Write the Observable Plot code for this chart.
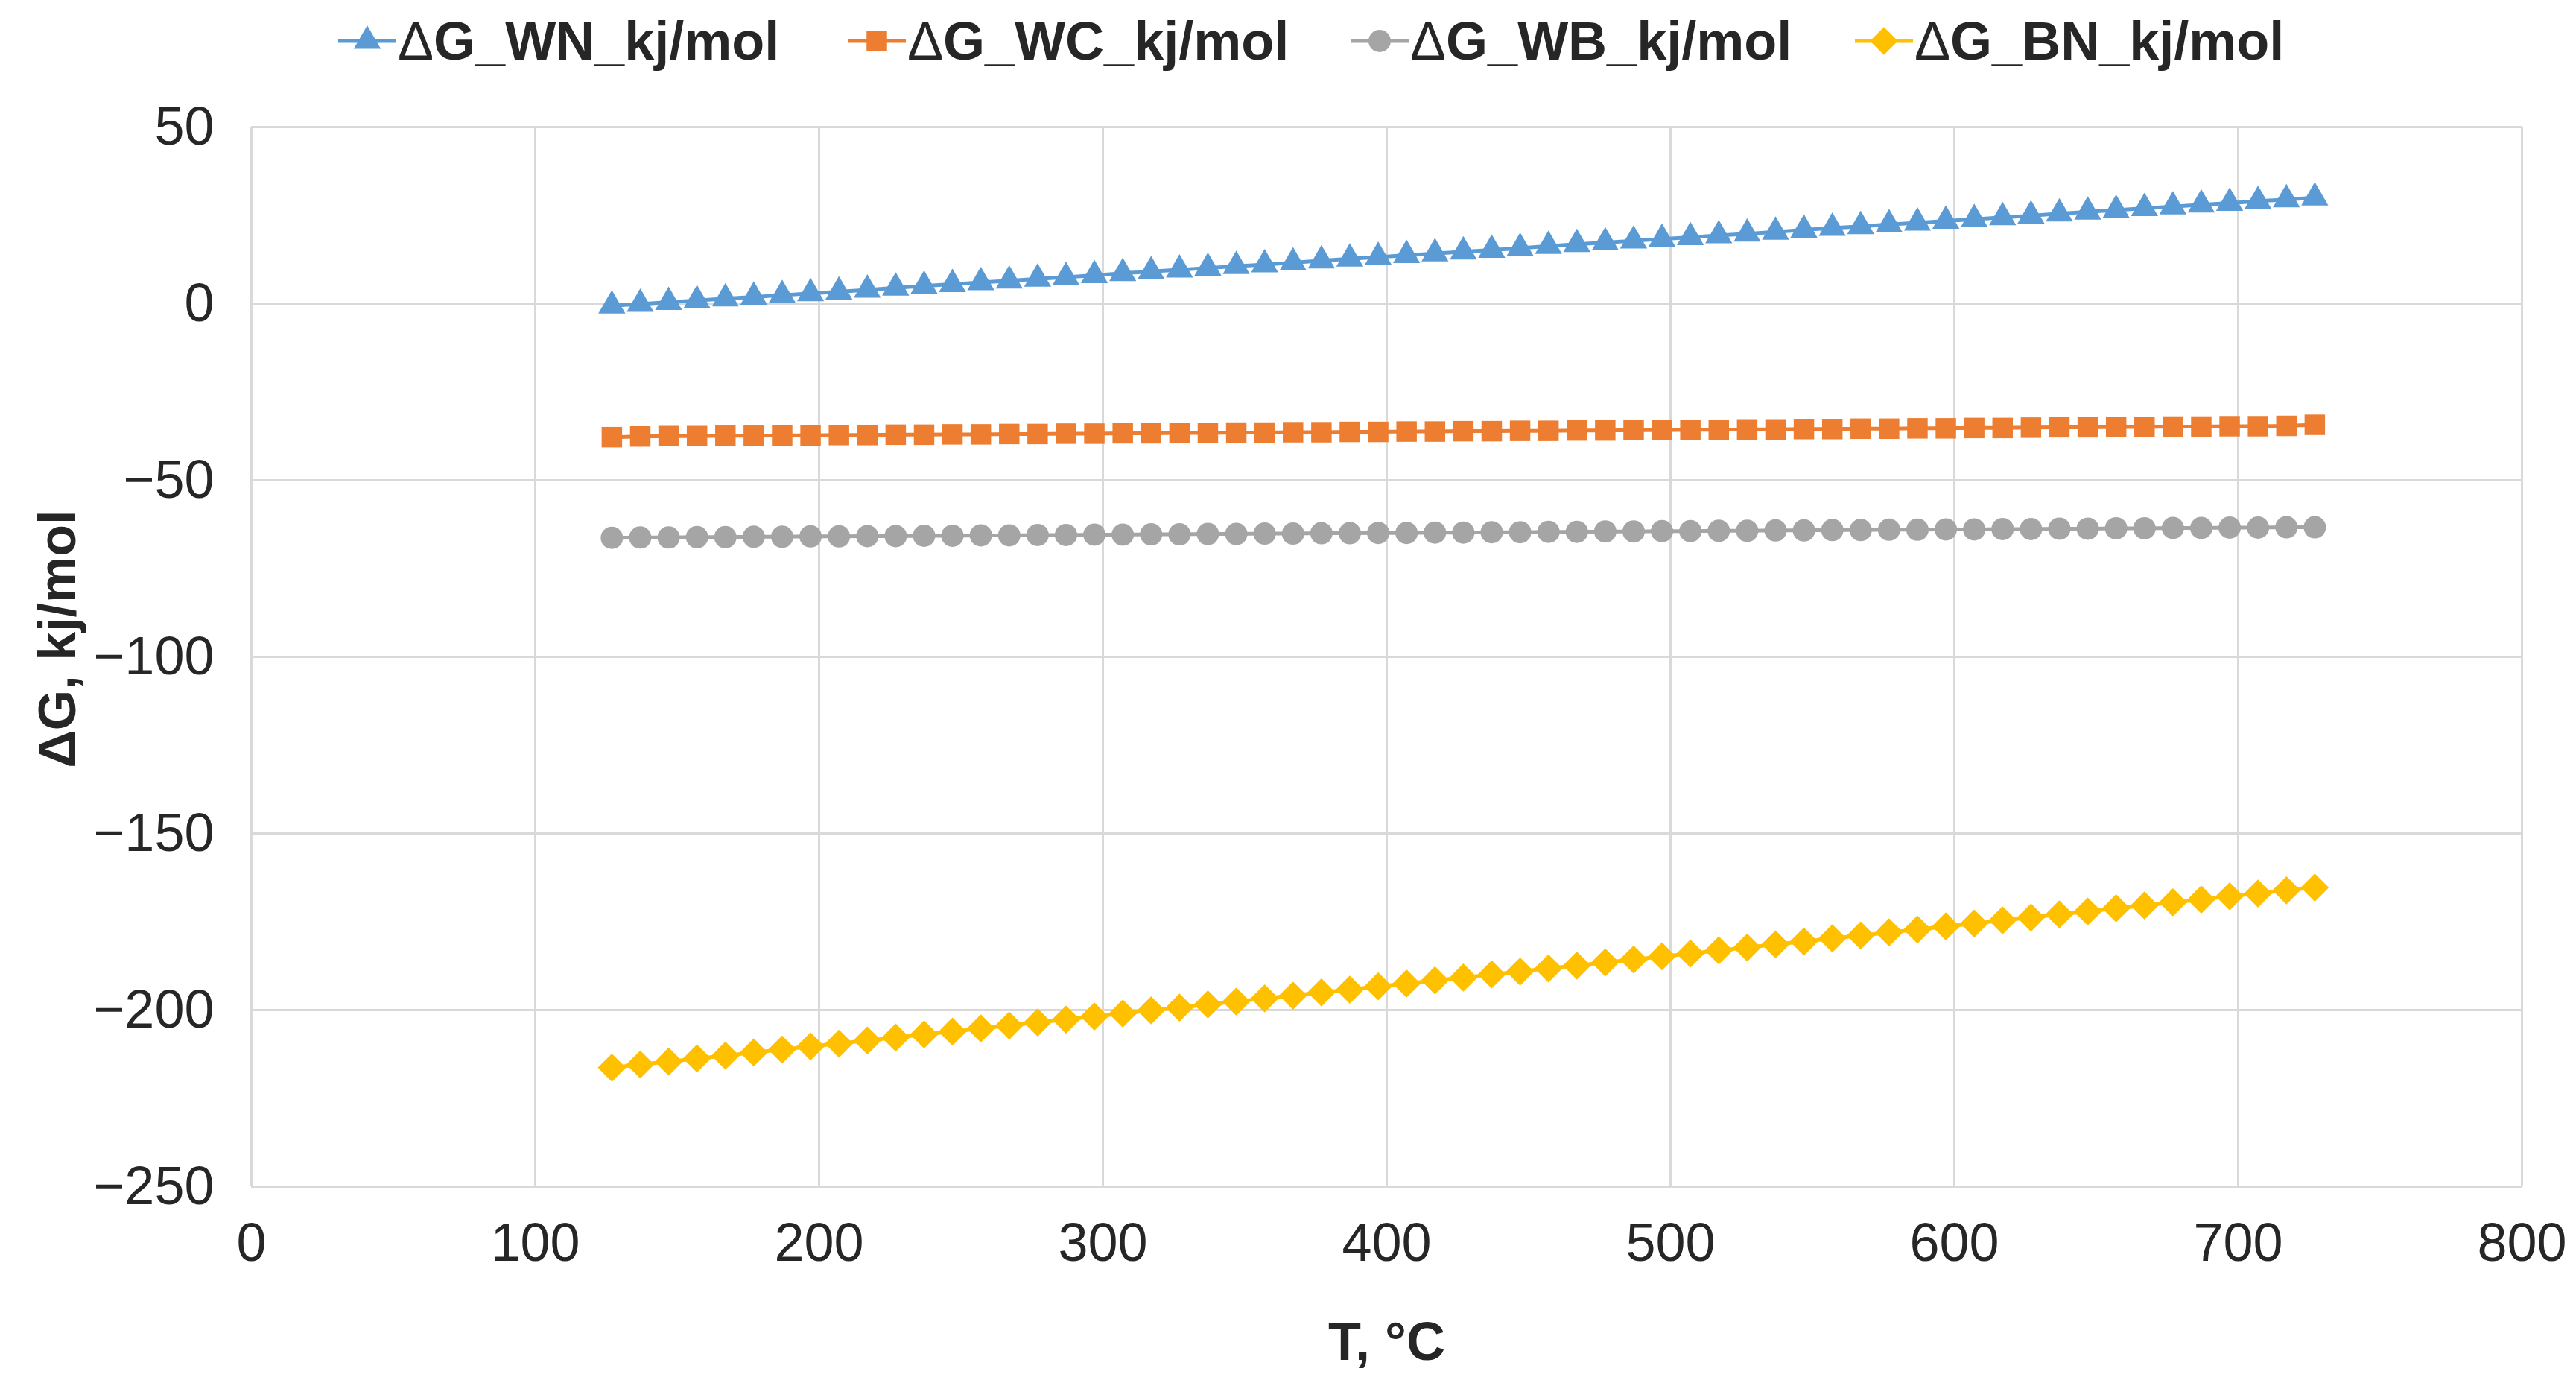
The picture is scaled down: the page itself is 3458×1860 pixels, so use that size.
<!DOCTYPE html>
<html>
<head>
<meta charset="utf-8">
<script src="https://cdn.jsdelivr.net/npm/d3@7"></script>
<script src="https://cdn.jsdelivr.net/npm/@observablehq/plot@0.6"></script>
<style>
  html, body { margin: 0; padding: 0; background: #fff; }
  body { width: 3458px; height: 1860px; overflow: hidden; font-family: "Liberation Sans", Arial, sans-serif; }
  #legend { position: relative; width: 3458px; height: 110px; }
  .item { position: absolute; top: 15px; height: 80px; display: flex; align-items: center; }
  .item span { font-weight: bold; font-size: 72px; color: #262626; margin-left: 2px; white-space: nowrap; }
  .item span .d { font-weight: normal; }
  #chart svg { display: block; }
</style>
</head>
<body>
<div id="legend"></div>
<div id="chart"></div>
<script>
// Temperature, °C
const T = [127,137,147,157,167,177,187,197,207,217,227,237,247,257,267,277,287,297,307,317,327,337,347,357,367,377,387,397,407,417,427,437,447,457,467,477,487,497,507,517,527,537,547,557,567,577,587,597,607,617,627,637,647,657,667,677,687,697,707,717,727];

const dG_WN = [-0.6,-0.1,0.4,0.9,1.4,1.9,2.4,2.9,3.4,3.9,
  4.5,5.0,5.5,6.0,6.5,7.0,7.5,8.0,8.6,9.1,
  9.6,10.1,10.6,11.1,11.6,12.2,12.7,13.2,13.7,14.2,
  14.7,15.2,15.7,16.3,16.8,17.3,17.8,18.3,18.8,19.3,
  19.8,20.3,20.9,21.4,21.9,22.4,22.9,23.4,23.9,24.4,
  24.9,25.5,26.0,26.5,27.0,27.5,28.0,28.5,29.0,29.5,30.0];

const dG_WC = [-37.8,-37.6,-37.5,-37.5,-37.4,-37.4,-37.3,-37.3,-37.2,-37.2,
  -37.1,-37.1,-37.0,-37.0,-36.9,-36.9,-36.8,-36.8,-36.7,-36.7,
  -36.6,-36.6,-36.5,-36.5,-36.4,-36.4,-36.3,-36.3,-36.2,-36.2,
  -36.1,-36.1,-36.0,-36.0,-35.9,-35.9,-35.8,-35.8,-35.7,-35.7,
  -35.6,-35.6,-35.5,-35.5,-35.4,-35.4,-35.3,-35.3,-35.2,-35.2,
  -35.1,-35.0,-35.0,-34.9,-34.9,-34.8,-34.8,-34.7,-34.7,-34.6,-34.3];

const dG_WB = [-66.3,-66.2,-66.2,-66.1,-66.1,-66.0,-66.0,-65.9,-65.9,-65.8,
  -65.8,-65.7,-65.7,-65.6,-65.6,-65.5,-65.5,-65.4,-65.4,-65.3,
  -65.3,-65.2,-65.2,-65.1,-65.1,-65.0,-65.0,-64.9,-64.9,-64.8,
  -64.8,-64.7,-64.7,-64.6,-64.6,-64.5,-64.5,-64.4,-64.4,-64.3,
  -64.3,-64.2,-64.2,-64.1,-64.1,-64.0,-64.0,-63.9,-63.9,-63.8,
  -63.8,-63.7,-63.7,-63.6,-63.6,-63.5,-63.5,-63.4,-63.4,-63.3,-63.3];

const dG_BN = [-216.3,-215.4,-214.6,-213.7,-212.9,-212.0,-211.2,-210.3,-209.5,-208.6,
  -207.8,-206.9,-206.1,-205.2,-204.4,-203.5,-202.7,-201.8,-201.0,-200.1,
  -199.3,-198.4,-197.6,-196.7,-195.9,-195.0,-194.2,-193.3,-192.5,-191.6,
  -190.8,-189.9,-189.1,-188.2,-187.4,-186.5,-185.7,-184.8,-184.0,-183.1,
  -182.3,-181.4,-180.6,-179.7,-178.9,-178.0,-177.2,-176.3,-175.5,-174.6,
  -173.8,-172.9,-172.1,-171.2,-170.4,-169.5,-168.7,-167.8,-167.0,-166.1,-165.3];

const seriesNames = ["ΔG_WN_kj/mol", "ΔG_WC_kj/mol", "ΔG_WB_kj/mol", "ΔG_BN_kj/mol"];
const seriesValues = [dG_WN, dG_WC, dG_WB, dG_BN];
const seriesColors = ["#5B9BD5", "#ED7D31", "#A5A5A5", "#FFC000"];
const seriesSymbols = ["triangle", "square", "circle", "diamond2"];
const seriesR = [13.5, 15.5, 15, 17];

const xTicks = [0,100,200,300,400,500,600,700,800];
const yTicks = [-250,-200,-150,-100,-50,0,50];

const xTitle = "T, °C";
const yTitle = "ΔG, kj/mol";

// Legend (HTML)
const legendLeft = [454, 1138, 1813, 2490];
const d3Sym = {triangle: d3.symbolTriangle, square: d3.symbolSquare, circle: d3.symbolCircle, diamond2: d3.symbolDiamond2};
const legend = d3.select("#legend");
seriesNames.forEach((name, i) => {
  const item = legend.append("div").attr("class", "item").style("left", legendLeft[i] + "px");
  const svg = item.append("svg").attr("width", 78).attr("height", 44);
  svg.append("line").attr("x1", 0).attr("x2", 78).attr("y1", 22).attr("y2", 22)
    .attr("stroke", seriesColors[i]).attr("stroke-width", 5);
  svg.append("path").attr("transform", "translate(39,22)")
    .attr("d", d3.symbol(d3Sym[seriesSymbols[i]], Math.PI * seriesR[i] * seriesR[i])())
    .attr("fill", seriesColors[i]);
  const span = item.append("span");
  span.append("tspan").attr("class", "d").text(name.slice(0, 1));
  span.append("tspan").text(name.slice(1));
});

const rows = [];
seriesNames.forEach((name, i) => {
  T.forEach((t, j) => rows.push({series: name, T: t, G: seriesValues[i][j]}));
});

const marks = [
  Plot.gridX(xTicks, {stroke: "#d9d9d9", strokeOpacity: 1, strokeWidth: 3}),
  Plot.gridY(yTicks, {stroke: "#d9d9d9", strokeOpacity: 1, strokeWidth: 3}),
  Plot.axisX(xTicks, {tickSize: 0, tickPadding: 48, fontSize: 72, fill: "#262626", label: null}),
  Plot.axisY(yTicks, {tickSize: 0, tickPadding: 50, fontSize: 72, fill: "#262626", label: null, tickFormat: d3.format("")}),
  Plot.text([yTitle], {frameAnchor: "left", textAnchor: "middle", dx: -259, dy: -24, rotate: -90, fontSize: 70, fontWeight: "bold", fill: "#262626"}),
  Plot.text([xTitle], {frameAnchor: "bottom", textAnchor: "middle", dy: 232, fontSize: 72, fontWeight: "bold", fill: "#262626"})
];
seriesNames.forEach((name, i) => {
  const data = rows.filter(d => d.series === name);
  marks.push(Plot.line(data, {x: "T", y: "G", stroke: seriesColors[i], strokeWidth: 5}));
  marks.push(Plot.dot(data, {x: "T", y: "G", fill: seriesColors[i], symbol: () => seriesSymbols[i], r: seriesR[i], stroke: "none"}));
});

const chart = Plot.plot({
  width: 3458,
  height: 1750,
  marginTop: 60,
  marginBottom: 268,
  marginLeft: 337,
  marginRight: 73,
  style: {fontFamily: "'Liberation Sans', Arial, sans-serif", background: "#fff"},
  x: {domain: [0, 800], label: null},
  y: {domain: [-250, 50], label: null},
  symbol: {type: "identity"},
  marks
});
document.getElementById("chart").appendChild(chart);
</script>
</body>
</html>
